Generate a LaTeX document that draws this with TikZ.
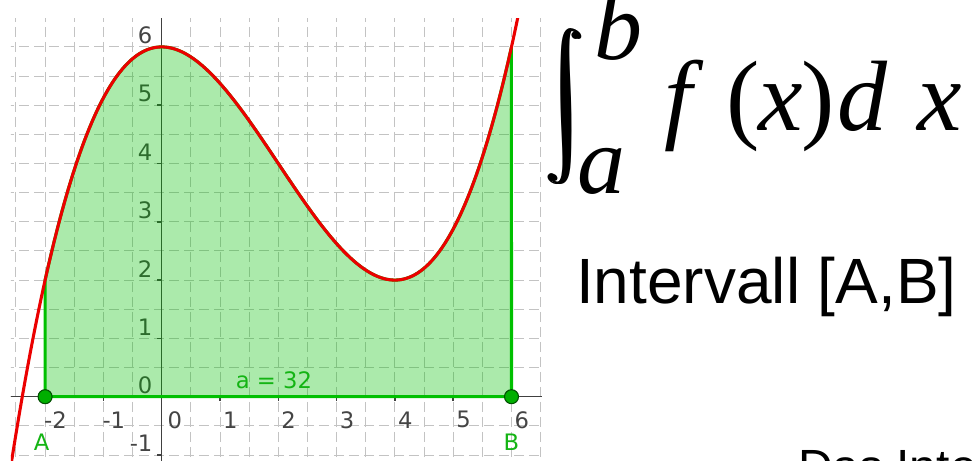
\documentclass[tikz,border=0pt]{standalone}
\usepackage{amsmath}
\usepackage{fontspec}
\usepackage{graphicx}
\setmainfont{Liberation Serif}
\newfontfamily\arialf{Liberation Sans}
\newfontfamily\djv{DejaVu Sans}
\definecolor{gridgray}{RGB}{195,195,195}
\definecolor{axisgray}{RGB}{64,64,64}
\definecolor{lblgray}{RGB}{68,68,68}
\definecolor{fgreen}{RGB}{0,192,0}
\definecolor{lgreen}{RGB}{20,180,20}
\definecolor{ptgreen}{RGB}{0,175,0}
\definecolor{ptedge}{RGB}{0,80,0}
\definecolor{fred}{RGB}{235,0,0}
\begin{document}
\begin{tikzpicture}[x=0.75pt,y=-0.75pt,
  every node/.style={inner sep=0pt, outer sep=0pt},
  gridline/.style={gridgray, line width=0.75pt, dash pattern=on 7.5pt off 3.75pt},
  axisline/.style={axisgray, line width=1.1pt},
  ticklbl/.style={font=\djv\fontsize{17}{17}\selectfont, text=lblgray},
  ptlbl/.style={font=\djv\fontsize{17}{17}\selectfont, text=lgreen},
  curve/.style={fred, line width=2.3pt},
  seg/.style={fgreen, line width=2.3pt, line join=round},
  area/.style={fill=fgreen, fill opacity=0.33},
  gpoint/.style={circle, fill=ptgreen, draw=ptedge, line width=0.8pt, minimum size=10.5pt},
  bigit/.style={font=\fontsize{75}{75}\selectfont\itshape, anchor=base},
  bigup/.style={font=\fontsize{75}{75}\selectfont, anchor=base},
  limit/.style={font=\fontsize{72}{72}\selectfont\itshape, anchor=base},
  sanstext/.style={font=\arialf\fontsize{48}{48}\selectfont, anchor=base}
]
\useasboundingbox (0,0) rectangle (976,461);
\clip (0,0) rectangle (976,461);
\fill[white] (0,0) rectangle (976,461);

% ---------------- graph ----------------
\begin{scope}[shift={(161.7,396.7)}, x=43.725pt, y=43.725pt]
  \begin{scope}
    \clip (-2.585,-1.12) rectangle (6.52,6.49);
    % grid
    \foreach \gx in {-2.5,-2,...,6.6}
      \draw[gridline] (\gx,6.6) -- (\gx,-1.2);
    \foreach \gy in {-1,-0.5,...,6.6}
      \draw[gridline] (-2.7,\gy) -- (6.6,\gy);
    % axes
    \draw[axisline] (-2.7,0) -- (6.6,0);
    \draw[axisline] (0,-1.2) -- (0,6.6);
    \foreach \k in {-2,-1,1,2,3,4,5,6}
      \draw[axisline] (\k,0) -- ([yshift=-3.5pt]\k,0);
    \foreach \k in {-1,1,2,3,4,5,6}
      \draw[axisline] (0,\k) -- ([xshift=-3.5pt]0,\k);
    % axis labels
    \foreach \k in {-2,-1,1,2,3,4,5,6}
      \node[ticklbl] (xl\k) at ([xshift=7.8pt, yshift=-17.3pt]\k,0) {\k};
    \node[ticklbl] (xl0) at ([xshift=9.8pt, yshift=-17.3pt]0,0) {0};
    \foreach \k in {-1,0,1,2,3,4,5,6}
      \node[ticklbl, anchor=east] (yl\k) at ([xshift=-7pt, yshift=8.6pt]0,\k) {\k};
    % area
    \draw[seg, area] plot[domain=-2:6, samples=120] (\x,{\x*\x*\x/8 - 0.75*\x*\x + 6})
      -- (6,0) -- (-2,0) -- cycle;
    % curve
    \draw[curve] plot[domain=-2.62:6.45, samples=200] (\x,{\x*\x*\x/8 - 0.75*\x*\x + 6});
  \end{scope}
  % points
  \node[gpoint] (A) at (-2,0) {};
  \node[gpoint] (B) at (6,0) {};
  \node[ptlbl] (lA) at ([xshift=-2.6pt, yshift=-34pt]A.center) {A};
  \node[ptlbl] (lB) at ([yshift=-34pt]B.center) {B};
  \node[ptlbl] (val) at (1.926,0.286) {a = 32};
\end{scope}

% ---------------- formula ----------------
\begin{scope}[shift={(566,106.5)}, xslant=-0.22]
  \node[transform shape] (int) at (0,0)
    {\resizebox*{!}{117.75pt}{$\displaystyle\pmb{\int}$}};
\end{scope}
\node[limit] (ub) at (618,59) {b};
\node[limit] (lbd) at (601,193) {a};
\node[bigit] (ff) at (678,130) {f};
\node[bigup] (lp) at (743,130) {(};
\node[bigit] (x1) at (781,130) {x};
\node[bigup] (rp) at (818,130) {)};
\node[bigit] (dd) at (862,130) {d};
\node[bigit] (x2) at (940,130) {x};

% ---------------- texts ----------------
\node[sanstext] (interval) at (766.5,303) {Intervall [A,B]};
\node[sanstext, font=\arialf\fontsize{36}{36}\selectfont, anchor=base west] (das) at (798,483.5) {Das Inte};
\end{tikzpicture}
\end{document}
